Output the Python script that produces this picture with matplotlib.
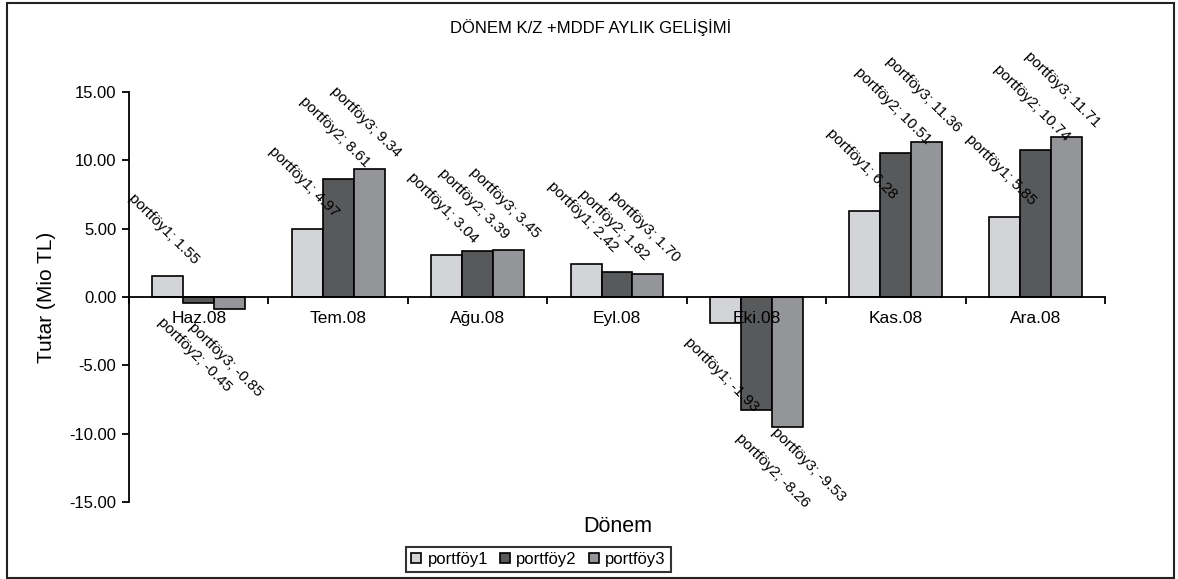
import matplotlib
matplotlib.use('Agg')
import matplotlib.pyplot as plt
from matplotlib.patches import Rectangle
import numpy as np


months = ['Haz.08', 'Tem.08', 'Ağu.08', 'Eyl.08', 'Eki.08', 'Kas.08', 'Ara.08']
series_names = ['portföy1', 'portföy2', 'portföy3']
portfoy1 = [1.55, 4.97, 3.04, 2.42, -1.93, 6.28, 5.85]
portfoy2 = [-0.45, 8.61, 3.39, 1.82, -8.26, 10.51, 10.74]
portfoy3 = [-0.85, 9.34, 3.45, 1.70, -9.53, 11.36, 11.71]

colors = ['#d3d4d8', '#58595b', '#949599']

# a couple of labels pushed aside so they do not sit on each other (month idx, series idx)
nudges = {(4, 1): (15, -7), (4, 2): (18, 10)}

plt.rcParams['font.family'] = ['Liberation Sans', 'DejaVu Sans']

fig = plt.figure(figsize=(11.78, 5.79), dpi=100)
ax = fig.add_axes([0.1095, 0.133, 0.8285, 0.708])

x = np.arange(len(months))
width = 0.222
all_series = [portfoy1, portfoy2, portfoy3]

for i, values in enumerate(all_series):
	pos = x + (i - 1) * width
	ax.bar(pos, values, width, color=colors[i], edgecolor='black', linewidth=1.2,
		label=series_names[i], zorder=1)
	for j, v in enumerate(values):
		if v >= 0:
			off = (-2.5, 34)
		else:
			off = (-3, -37)
		dx, dy = nudges.get((j, i), (0, 0))
		ax.annotate('%s; %.2f' % (series_names[i], v), xy=(pos[j], v),
			xytext=(off[0] + dx, off[1] + dy), textcoords='offset points',
			rotation=-45, rotation_mode='anchor', ha='center', va='center',
			fontsize=11, zorder=3)

ax.set_xlim(-0.5, 6.5)
ax.set_ylim(-15, 15)
ax.set_yticks([-15, -10, -5, 0, 5, 10, 15])
ax.set_yticklabels(['%.2f' % t for t in [-15, -10, -5, 0, 5, 10, 15]])
ax.tick_params(axis='y', direction='out', length=5, width=1.3, pad=4, labelsize=12)

# tick marks between months, names in the middle of each group
ax.set_xticks(np.arange(-0.5, 7, 1))
ax.set_xticklabels([])
ax.set_xticks(x, minor=True)
ax.set_xticklabels(months, minor=True)
ax.tick_params(axis='x', which='major', direction='out', length=5, width=1.3)
ax.tick_params(axis='x', which='minor', length=0, pad=10, labelsize=12.5)

ax.spines['top'].set_visible(False)
ax.spines['right'].set_visible(False)
ax.spines['bottom'].set_position(('data', 0))
ax.spines['bottom'].set_linewidth(1.3)
ax.spines['left'].set_linewidth(1.3)

ax.set_ylabel('Tutar (Mio TL)', fontsize=15)
ax.yaxis.set_label_coords(-0.075, 0.5)
ax.set_xlabel('Dönem', fontsize=15.5)
ax.xaxis.set_label_coords(0.501, -0.033)

fig.text(0.501, 0.953, 'DÖNEM K/Z +MDDF AYLIK GELİŞİMİ', ha='center', va='center', fontsize=12)

leg = fig.legend(loc='center', bbox_to_anchor=(0.457, 0.034), ncol=3, fontsize=12,
	frameon=True, fancybox=False, handlelength=0.6, handleheight=0.6,
	handletextpad=0.4, columnspacing=0.7, borderpad=0.3, borderaxespad=0)
leg.get_frame().set_edgecolor('black')
leg.get_frame().set_linewidth(1.5)

fig.patches.append(Rectangle((0.006, 0.002), 0.991, 0.993, transform=fig.transFigure,
	fill=False, edgecolor='#222222', linewidth=1.5))

plt.savefig('out.png', dpi=100)
